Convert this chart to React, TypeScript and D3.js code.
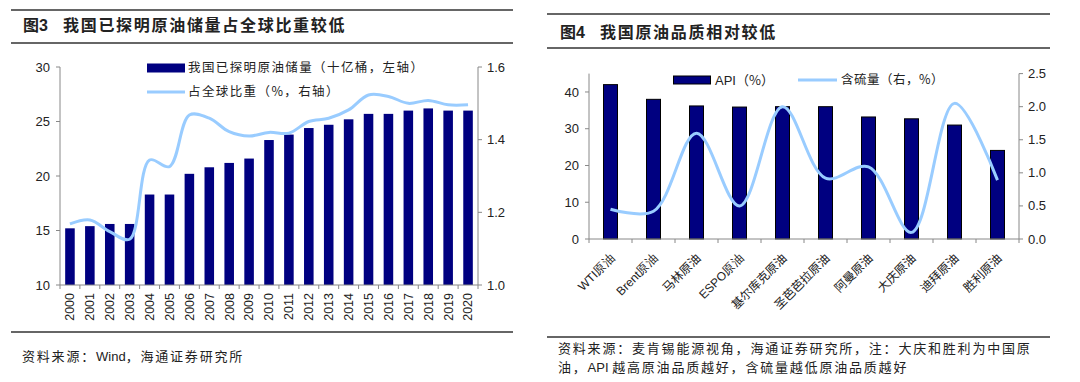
import React from "react";
import * as d3 from "d3";

// ---------- Figure 3 data ----------
const years = ["2000","2001","2002","2003","2004","2005","2006","2007","2008","2009","2010","2011","2012","2013","2014","2015","2016","2017","2018","2019","2020"];
const reserves = [15.2,15.4,15.6,15.6,18.3,18.3,20.2,20.8,21.2,21.6,23.3,23.8,24.4,24.7,25.2,25.7,25.7,26.0,26.2,26.0,26.0];
const share = [1.168,1.179,1.147,1.126,1.344,1.326,1.468,1.459,1.422,1.41,1.42,1.418,1.45,1.459,1.482,1.523,1.519,1.50,1.508,1.496,1.496];
const leftTicks3 = [10,15,20,25,30];
const rightTicks3 = [1.0,1.2,1.4,1.6];

// ---------- Figure 4 data ----------
const crudes = ["WTI原油","Brent原油","马林原油","ESPO原油","基尔库克原油","圣芭芭拉原油","阿曼原油","大庆原油","迪拜原油","胜利原油"];
const api = [42.0,38.0,36.2,35.9,36.0,36.0,33.2,32.7,31.0,24.1];
const sulfur = [0.45,0.42,1.6,0.5,2.0,0.92,1.09,0.1,2.05,0.89];
const leftTicks4 = [0,10,20,30,40];
const rightTicks4 = [0,0.5,1.0,1.5,2.0,2.5];

const NAVY = "#000080";
const LINE = "#99CCFF";
const AX = "#888888";
const NUM = "'Liberation Sans', Arial, sans-serif";
const CJK = "'Noto Sans CJK SC', sans-serif";
const TXT = "#222";

function Fig3() {
  const x = d3.scaleBand<string>().domain(years).range([60, 478]);
  const yL = d3.scaleLinear().domain([10, 30]).range([285, 67]);
  const yR = d3.scaleLinear().domain([1.0, 1.6]).range([285, 67]);
  const bw = x.bandwidth() * 0.48;
  const line = d3.line<number>()
    .x((_, i) => (x(years[i]) as number) + x.bandwidth() / 2)
    .y((d) => yR(d))
    .curve(d3.curveCatmullRom.alpha(0.5));
  const bounds = years.map((y) => x(y) as number).concat([478]);
  return (
    <g>
      <line x1={11} x2={513} y1={10} y2={10} stroke="#333" strokeWidth={1.5} />
      <text x={23} y={31} fontSize={16} fontWeight="bold" fill={TXT} fontFamily={CJK}>图<tspan fontFamily={NUM}>3</tspan></text>
      <text x={63} y={31} fontSize={16} fontWeight="bold" fill={TXT} fontFamily={CJK} letterSpacing={1.7}>我国已探明原油储量占全球比重较低</text>
      <line x1={11} x2={513} y1={43} y2={43} stroke="#333" strokeWidth={1.5} />

      {years.map((y, i) => (
        <rect key={y} x={(x(y) as number) + (x.bandwidth() - bw) / 2} y={yL(reserves[i])}
          width={bw} height={285 - yL(reserves[i])} fill={NAVY} />
      ))}
      <path d={line(share) || ""} fill="none" stroke={LINE} strokeWidth={3} />

      {/* axes */}
      <line x1={60} x2={60} y1={67} y2={285} stroke={AX} />
      <line x1={478} x2={478} y1={67} y2={285} stroke={AX} />
      <line x1={60} x2={478} y1={285} y2={285} stroke={AX} />
      {leftTicks3.map((t) => (
        <g key={t}>
          <line x1={56} x2={60} y1={yL(t)} y2={yL(t)} stroke={AX} />
          <text x={50} y={yL(t)} dy="0.35em" textAnchor="end" fontSize={13} fontFamily={NUM} fill={TXT}>{t}</text>
        </g>
      ))}
      {rightTicks3.map((t) => (
        <g key={t}>
          <line x1={478} x2={482} y1={yR(t)} y2={yR(t)} stroke={AX} />
          <text x={487} y={yR(t)} dy="0.35em" textAnchor="start" fontSize={13} fontFamily={NUM} fill={TXT}>{d3.format(".1f")(t)}</text>
        </g>
      ))}
      {bounds.map((b, i) => (
        <line key={i} x1={b} x2={b} y1={285} y2={289} stroke={AX} />
      ))}
      {years.map((y) => {
        const cx = (x(y) as number) + x.bandwidth() / 2;
        return (
          <text key={y} transform={`translate(${cx},293) rotate(-90)`} textAnchor="end" dy="0.35em"
            fontSize={12.5} fontFamily={NUM} fill={TXT}>{y}</text>
        );
      })}

      {/* legend */}
      <rect x={147} y={63.5} width={38} height={9} fill={NAVY} />
      <text x={188} y={68} dy="0.35em" fontSize={12.5} fontFamily={CJK} fill={TXT} letterSpacing={1.4}>我国已探明原油储量（十亿桶，左轴）</text>
      <line x1={147} x2={185} y1={92} y2={92} stroke={LINE} strokeWidth={3} />
      <text x={188} y={92} dy="0.35em" fontSize={12.5} fontFamily={CJK} fill={TXT} letterSpacing={1.4}>占全球比重（%，右轴）</text>

      <line x1={11} x2={513} y1={332} y2={332} stroke="#333" strokeWidth={1.5} />
      <text x={22} y={356} dy="0.35em" fontSize={13} fontFamily={CJK} fill={TXT} letterSpacing={1.8}>资料来源：<tspan fontFamily={NUM} letterSpacing={0}>Wind</tspan>，海通证券研究所</text>
    </g>
  );
}

function Fig4() {
  const x = d3.scaleBand<string>().domain(crudes).range([589, 1019]);
  const yL = d3.scaleLinear().domain([0, 45]).range([239, 73.6]);
  const yR = d3.scaleLinear().domain([0, 2.5]).range([239, 73.6]);
  const bw = 14;
  const line = d3.line<number>()
    .x((_, i) => (x(crudes[i]) as number) + x.bandwidth() / 2)
    .y((d) => yR(d))
    .curve(d3.curveCatmullRom.alpha(0.5));
  const bounds = crudes.map((c) => x(c) as number).concat([1019]);
  return (
    <g>
      <line x1={547} x2={1050} y1={14} y2={14} stroke="#333" strokeWidth={1.5} />
      <text x={560} y={38} fontSize={16} fontWeight="bold" fill={TXT} fontFamily={CJK}>图<tspan fontFamily={NUM}>4</tspan></text>
      <text x={600} y={38} fontSize={16} fontWeight="bold" fill={TXT} fontFamily={CJK} letterSpacing={1.7}>我国原油品质相对较低</text>
      <line x1={547} x2={1050} y1={48} y2={48} stroke="#333" strokeWidth={1.5} />

      {crudes.map((c, i) => (
        <rect key={c} x={(x(c) as number) + (x.bandwidth() - bw) / 2} y={yL(api[i])}
          width={bw} height={239 - yL(api[i])} fill={NAVY} stroke="#000" strokeWidth={1} />
      ))}
      <path d={line(sulfur) || ""} fill="none" stroke={LINE} strokeWidth={3} />

      <line x1={589} x2={589} y1={73.6} y2={239} stroke={AX} />
      <line x1={1019} x2={1019} y1={73.6} y2={239} stroke={AX} />
      <line x1={589} x2={1019} y1={239} y2={239} stroke={AX} />
      {leftTicks4.map((t) => (
        <g key={t}>
          <line x1={585} x2={589} y1={yL(t)} y2={yL(t)} stroke={AX} />
          <text x={579} y={yL(t)} dy="0.35em" textAnchor="end" fontSize={13} fontFamily={NUM} fill={TXT}>{t}</text>
        </g>
      ))}
      {rightTicks4.map((t) => (
        <g key={t}>
          <line x1={1019} x2={1023} y1={yR(t)} y2={yR(t)} stroke={AX} />
          <text x={1028} y={yR(t)} dy="0.35em" textAnchor="start" fontSize={13} fontFamily={NUM} fill={TXT}>{d3.format(".1f")(t)}</text>
        </g>
      ))}
      {bounds.map((b, i) => (
        <line key={i} x1={b} x2={b} y1={239} y2={243} stroke={AX} />
      ))}
      {crudes.map((c) => {
        const cx = (x(c) as number) + x.bandwidth() / 2 + 2;
        return (
          <text key={c} transform={`translate(${cx},256) rotate(-45)`} textAnchor="end" dy="0.35em"
            fontSize={12} fontFamily={/^[A-Za-z]/.test(c) ? NUM : CJK} fill={TXT}>{c}</text>
        );
      })}

      <rect x={673.5} y={76} width={37} height={8} fill={NAVY} stroke="#000" strokeWidth={1} />
      <text x={715} y={80} dy="0.35em" fontSize={13} fontFamily={NUM} fill={TXT}>API<tspan fontFamily={CJK}>（%）</tspan></text>
      <line x1={798} x2={837} y1={80} y2={80} stroke={LINE} strokeWidth={3} />
      <text x={841} y={80} dy="0.35em" fontSize={12.5} fontFamily={CJK} fill={TXT} letterSpacing={0.5}>含硫量（右，%）</text>

      <line x1={547} x2={1050} y1={337} y2={337} stroke="#333" strokeWidth={1.5} />
      <text x={558} y={348} dy="0.35em" fontSize={13} fontFamily={CJK} fill={TXT} letterSpacing={1.8}>资料来源：麦肯锡能源视角，海通证券研究所，注：大庆和胜利为中国原</text>
      <text x={558} y={367} dy="0.35em" fontSize={13} fontFamily={CJK} fill={TXT} letterSpacing={1.8}>油，<tspan fontFamily={NUM} letterSpacing={0}>API </tspan>越高原油品质越好，含硫量越低原油品质越好</text>
    </g>
  );
}

export default function App() {
  return (
    <svg width={1080} height={382} style={{ position: "absolute", left: 0, top: 0, background: "#fff" }}>
      <rect width={1080} height={382} fill="#fff" />
      <Fig3 />
      <Fig4 />
    </svg>
  );
}
